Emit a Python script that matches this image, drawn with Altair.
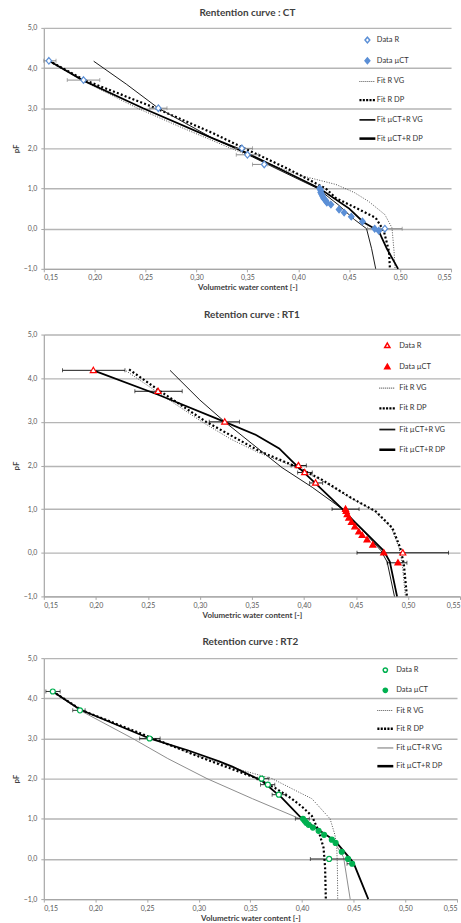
import altair as alt
import pandas as pd

SERIES = ["Data R", "Data µCT", "Fit R VG", "Fit R DP", "Fit µCT+R VG", "Fit µCT+R DP"]
X_TICKS = [0.15, 0.20, 0.25, 0.30, 0.35, 0.40, 0.45, 0.50, 0.55]
Y_TICKS = [-1, 0, 1, 2, 3, 4, 5]

# ---------------- CT ----------------
ct_r_theta = [0.155, 0.189, 0.2625, 0.3446, 0.350, 0.3665, 0.485]
ct_r_pf = [4.18, 3.70, 3.00, 2.00, 1.84, 1.60, 0.00]
ct_err_pf = [4.18, 3.70, 3.00, 2.00, 1.84, 1.60, 0.00]
ct_err_lo = [0.150, 0.173, 0.254, 0.338, 0.339, 0.355, 0.468]
ct_err_hi = [0.162, 0.205, 0.271, 0.355, 0.361, 0.370, 0.502]
ct_u_theta = [0.421, 0.422, 0.422, 0.423, 0.424, 0.425, 0.427, 0.428, 0.432, 0.440, 0.445, 0.452, 0.463, 0.475, 0.479]
ct_u_pf = [1.00, 0.95, 0.90, 0.85, 0.80, 0.75, 0.70, 0.65, 0.60, 0.48, 0.40, 0.30, 0.18, 0.00, -0.05]

ct_rvg_pf = [4.18, 3.70, 3.00, 2.50, 2.19, 2.00, 1.60, 1.34, 1.10, 0.90, 0.68, 0.35, 0.02, -0.56, -1.00]
ct_rvg_theta = [0.155, 0.187, 0.242, 0.287, 0.316, 0.334, 0.373, 0.400, 0.437, 0.455, 0.469, 0.485, 0.492, 0.494, 0.495]
ct_rdp_pf = [4.18, 3.70, 3.00, 2.38, 2.00, 1.50, 1.00, 0.76, 0.50, 0.27, -0.06, -0.56, -1.00]
ct_rdp_theta = [0.155, 0.190, 0.260, 0.316, 0.347, 0.389, 0.427, 0.437, 0.458, 0.476, 0.484, 0.489, 0.490]
ct_uvg_pf = [4.17, 3.60, 3.00, 2.25, 2.00, 1.50, 1.00, 0.60, 0.23, 0.00, -0.50, -1.00]
ct_uvg_theta = [0.199, 0.231, 0.2625, 0.316, 0.338, 0.378, 0.419, 0.439, 0.455, 0.467, 0.472, 0.476]
ct_udp_pf = [4.18, 3.70, 3.00, 2.25, 2.00, 1.50, 1.00, 0.50, 0.16, -0.06, -0.50, -1.00]
ct_udp_theta = [0.155, 0.188, 0.2475, 0.316, 0.340, 0.381, 0.421, 0.450, 0.464, 0.479, 0.487, 0.498]

# ---------------- RT1 ----------------
rt1_r_theta = [0.1976, 0.2598, 0.3239, 0.3947, 0.4007, 0.4112, 0.495]
rt1_r_pf = [4.18, 3.70, 3.00, 2.00, 1.84, 1.60, 0.00]
rt1_err_pf = [4.18, 3.70, 3.00, 2.00, 1.84, 1.60, 1.00, 0.00, -0.23]
rt1_err_lo = [0.168, 0.2375, 0.309, 0.3877, 0.394, 0.4055, 0.427, 0.451, 0.480]
rt1_err_hi = [0.228, 0.283, 0.338, 0.4023, 0.408, 0.418, 0.453, 0.539, 0.499]
rt1_u_theta = [0.440, 0.4406, 0.4416, 0.4432, 0.4457, 0.449, 0.4528, 0.456, 0.4607, 0.4662, 0.4767, 0.4904]
rt1_u_pf = [1.00, 0.95, 0.88, 0.80, 0.70, 0.60, 0.48, 0.40, 0.30, 0.18, 0.00, -0.23]

rt1_rvg_pf = [4.17, 3.70, 3.00, 2.60, 2.30, 1.98, 1.67, 1.25, 0.95, 0.57, 0.11, -0.26, -1.00]
rt1_rvg_theta = [0.229, 0.258, 0.302, 0.330, 0.356, 0.390, 0.416, 0.445, 0.468, 0.484, 0.4915, 0.4945, 0.4975]
rt1_rdp_pf = [4.20, 3.70, 3.00, 2.66, 2.32, 1.98, 1.67, 1.25, 0.95, 0.57, 0.11, -0.26, -1.00]
rt1_rdp_theta = [0.232, 0.262, 0.306, 0.332, 0.358, 0.392, 0.4176, 0.446, 0.469, 0.485, 0.4926, 0.496, 0.499]
rt1_uvg_pf = [4.18, 3.50, 3.00, 2.50, 1.95, 1.50, 1.00, 0.76, 0.50, 0.05, -0.21, -1.00]
rt1_uvg_theta = [0.2713, 0.300, 0.3239, 0.350, 0.379, 0.408, 0.437, 0.447, 0.457, 0.474, 0.480, 0.487]
rt1_udp_pf = [4.18, 3.62, 3.00, 2.70, 2.39, 2.09, 1.60, 1.00, 0.76, 0.50, 0.05, -0.20, -1.00]
rt1_udp_theta = [0.1976, 0.260, 0.3239, 0.354, 0.3762, 0.389, 0.4106, 0.437, 0.4465, 0.4575, 0.4765, 0.4825, 0.4895]

# ---------------- RT2 ----------------
rt2_r_theta = [0.1587, 0.185, 0.2524, 0.3608, 0.3669, 0.3775, 0.4262]
rt2_r_pf = [4.17, 3.70, 3.00, 2.00, 1.85, 1.60, 0.00]
rt2_err_pf = [4.17, 3.70, 3.00, 2.00, 1.85, 1.60, 1.00, 0.00, -0.12]
rt2_err_lo = [0.152, 0.178, 0.2428, 0.3566, 0.3598, 0.371, 0.3935, 0.408, 0.4435]
rt2_err_hi = [0.1658, 0.190, 0.2626, 0.3678, 0.3736, 0.3845, 0.407, 0.444, 0.4505]
rt2_u_theta = [0.4009, 0.4025, 0.4041, 0.4064, 0.4105, 0.416, 0.4213, 0.4288, 0.4325, 0.4384, 0.4445, 0.4485]
rt2_u_pf = [1.00, 0.95, 0.90, 0.85, 0.78, 0.70, 0.60, 0.48, 0.40, 0.18, 0.00, -0.12]

rt2_rvg_pf = [4.17, 3.70, 3.00, 2.55, 2.25, 2.00, 1.70, 1.50, 1.00, 0.60, 0.28, -0.20, -1.00]
rt2_rvg_theta = [0.1587, 0.186, 0.254, 0.301, 0.336, 0.371, 0.394, 0.4095, 0.4271, 0.4318, 0.4336, 0.4342, 0.4345]
rt2_rdp_pf = [4.17, 3.70, 3.00, 2.52, 2.23, 2.02, 1.75, 1.50, 1.30, 1.07, 0.70, 0.28, -0.22, -1.00]
rt2_rdp_theta = [0.1587, 0.187, 0.256, 0.303, 0.333, 0.355, 0.375, 0.390, 0.400, 0.4095, 0.416, 0.4208, 0.4223, 0.423]
rt2_uvg_pf = [4.17, 3.70, 3.00, 2.50, 2.00, 1.50, 1.00, 0.75, 0.45, 0.04, -0.50, -1.00]
rt2_uvg_theta = [0.1587, 0.185, 0.236, 0.270, 0.308, 0.352, 0.398, 0.415, 0.4306, 0.4402, 0.4435, 0.4466]
rt2_udp_pf = [4.17, 3.72, 3.00, 2.70, 2.43, 2.30, 1.94, 1.52, 1.00, 0.45, -0.09, -1.00]
rt2_udp_theta = [0.1587, 0.185, 0.2524, 0.290, 0.3197, 0.3325, 0.3613, 0.3805, 0.400, 0.432, 0.4497, 0.4641]

FONT = "Lato"


def dots(half_h, w, period):
    parts = []
    x = -1.0
    while x + w <= 1.0001:
        parts.append(f"M{x:.3f},{-half_h:.3f}h{w:.3f}v{2 * half_h:.3f}h{-w:.3f}Z")
        x += period
    return "".join(parts)


def bar(half_h):
    return f"M-1,{-half_h:.3f}H1V{half_h:.3f}H-1Z"


MARKERS = {
    "diamond": "M0,-0.36L0.3,0L0,0.36L-0.3,0Z",
    "triangle": "M0,-0.34L0.33,0.24L-0.33,0.24Z",
    "circle": "M0.27,0A0.27,0.27,0,1,1,-0.27,0A0.27,0.27,0,1,1,0.27,0Z",
}


def panel(title, marker, color, r_theta, r_pf, u_theta, u_pf, err_pf, err_lo, err_hi,
          fits, err_color, width, height, lx, ly, row_pad, label_off, title_off,
          uvg_color, uvg_width, uvg_half):
    xs = alt.Scale(domain=[0.15, 0.55], nice=False, zero=False)
    ys = alt.Scale(domain=[-1, 5], nice=False, zero=False)
    X = alt.X("theta:Q", scale=xs, axis=alt.Axis(
        values=X_TICKS, title="Volumetric water content [-]", grid=False,
        labelExpr="replace(format(datum.value, '.2f'), '.', ',')",
        labelPadding=2, titlePadding=3))
    Y = alt.Y("pF:Q", scale=ys, axis=alt.Axis(
        values=Y_TICKS, title="pF", grid=True,
        labelExpr="replace(format(datum.value, '.1f'), '.', ',')",
        labelPadding=4, titlePadding=3))

    layers = []
    styles = [
        dict(color="#404040", strokeWidth=0.9, strokeDash=[1, 1.5]),
        dict(color="#000000", strokeWidth=2.2, strokeDash=[2, 2.2]),
        dict(color=uvg_color, strokeWidth=uvg_width),
        dict(color="#000000", strokeWidth=1.8),
    ]
    for (f_theta, f_pf), st in zip(fits, styles):
        df = pd.DataFrame({"theta": f_theta, "pF": f_pf, "i": list(range(len(f_pf)))})
        layers.append(alt.Chart(df).mark_line(strokeCap="butt", **st).encode(
            x=X, y=Y, order="i:Q"))

    edf = pd.DataFrame({"pF": err_pf, "lo": err_lo, "hi": err_hi})
    layers.append(alt.Chart(edf).mark_rule(color=err_color, strokeWidth=0.9).encode(
        x=X, x2="hi:Q", y="pF:Q").transform_calculate(theta="datum.lo"))
    layers.append(alt.Chart(edf).mark_tick(color=err_color, orient="vertical", size=4, thickness=0.9).encode(
        x=alt.X("lo:Q", scale=xs), y="pF:Q"))
    layers.append(alt.Chart(edf).mark_tick(color=err_color, orient="vertical", size=4, thickness=0.9).encode(
        x=alt.X("hi:Q", scale=xs), y="pF:Q"))

    pdf = pd.DataFrame({
        "theta": r_theta + u_theta,
        "pF": r_pf + u_pf,
        "series": ["Data R"] * len(r_theta) + ["Data µCT"] * len(u_theta),
    })
    leg = alt.Legend(orient="none", legendX=lx, legendY=ly, title=None, padding=0,
                     rowPadding=row_pad, labelOffset=label_off, symbolSize=256,
                     labelFont=FONT, labelFontSize=7.5, labelColor="#333333")
    shapes = [MARKERS[marker], MARKERS[marker], dots(0.065, 0.11, 0.25), dots(0.15, 0.26, 0.42),
              bar(uvg_half), bar(0.16)]
    fills = ["#ffffff", color, "#404040", "#000000", uvg_color, "#000000"]
    strokes = [color, color, "transparent", "transparent", "transparent", "transparent"]
    layers.append(alt.Chart(pdf).mark_point(filled=True, opacity=1, size=340, strokeWidth=1.2).encode(
        x=X, y=Y,
        shape=alt.Shape("series:N", scale=alt.Scale(domain=SERIES, range=shapes), legend=leg),
        fill=alt.Fill("series:N", scale=alt.Scale(domain=SERIES, range=fills), legend=leg),
        stroke=alt.Stroke("series:N", scale=alt.Scale(domain=SERIES, range=strokes), legend=leg),
    ))
    return alt.layer(*layers).properties(
        width=width, height=height,
        title=alt.TitleParams(title, offset=title_off))


p1 = panel("Rentention curve : CT", "diamond", "#5B8FD6",
           ct_r_theta, ct_r_pf, ct_u_theta, ct_u_pf, ct_err_pf, ct_err_lo, ct_err_hi,
           [(ct_rvg_theta, ct_rvg_pf), (ct_rdp_theta, ct_rdp_pf), (ct_uvg_theta, ct_uvg_pf), (ct_udp_theta, ct_udp_pf)],
           "#808080", 409, 242, 316, 3.2, 5.8, 0.5, 5.5, "#1a1a1a", 1.0, 0.11)
p2 = panel("Retention curve : RT1", "triangle", "#FF0000",
           rt1_r_theta, rt1_r_pf, rt1_u_theta, rt1_u_pf, rt1_err_pf, rt1_err_lo, rt1_err_hi,
           [(rt1_rvg_theta, rt1_rvg_pf), (rt1_rdp_theta, rt1_rdp_pf), (rt1_uvg_theta, rt1_uvg_pf), (rt1_udp_theta, rt1_udp_pf)],
           "#000000", 418, 263, 336, 2.2, 7.3, 3, 11, "#1a1a1a", 1.0, 0.11)
p3 = panel("Retention curve : RT2", "circle", "#00B050",
           rt2_r_theta, rt2_r_pf, rt2_u_theta, rt2_u_pf, rt2_err_pf, rt2_err_lo, rt2_err_hi,
           [(rt2_rvg_theta, rt2_rvg_pf), (rt2_rdp_theta, rt2_rdp_pf), (rt2_uvg_theta, rt2_uvg_pf), (rt2_udp_theta, rt2_udp_pf)],
           "#1a1a1a", 415, 242, 334, 3, 5.3, 2, 7, "#808080", 0.9, 0.07)

chart = alt.vconcat(p1, p2, p3, spacing=18).resolve_scale(
    shape="independent", fill="independent", stroke="independent"
).resolve_legend(
    shape="independent", fill="independent", stroke="independent"
).properties(
    padding={"left": 12, "top": 6, "right": 0, "bottom": 0}
).configure_view(strokeWidth=0).configure_axis(
    labelFont=FONT, labelFontSize=7, labelColor="#595959",
    titleFont=FONT, titleFontSize=8, titleFontWeight="bold", titleColor="#404040",
    domainColor="#a6a6a6", domainWidth=1.2, tickColor="#a6a6a6", tickSize=3,
    gridColor="#b5b5b5", gridWidth=1.4
).configure_title(
    font=FONT, fontSize=10, fontWeight="bold", color="#404040", anchor="middle"
)

chart.save("out.html", embed_options={"renderer": "svg", "actions": False})
